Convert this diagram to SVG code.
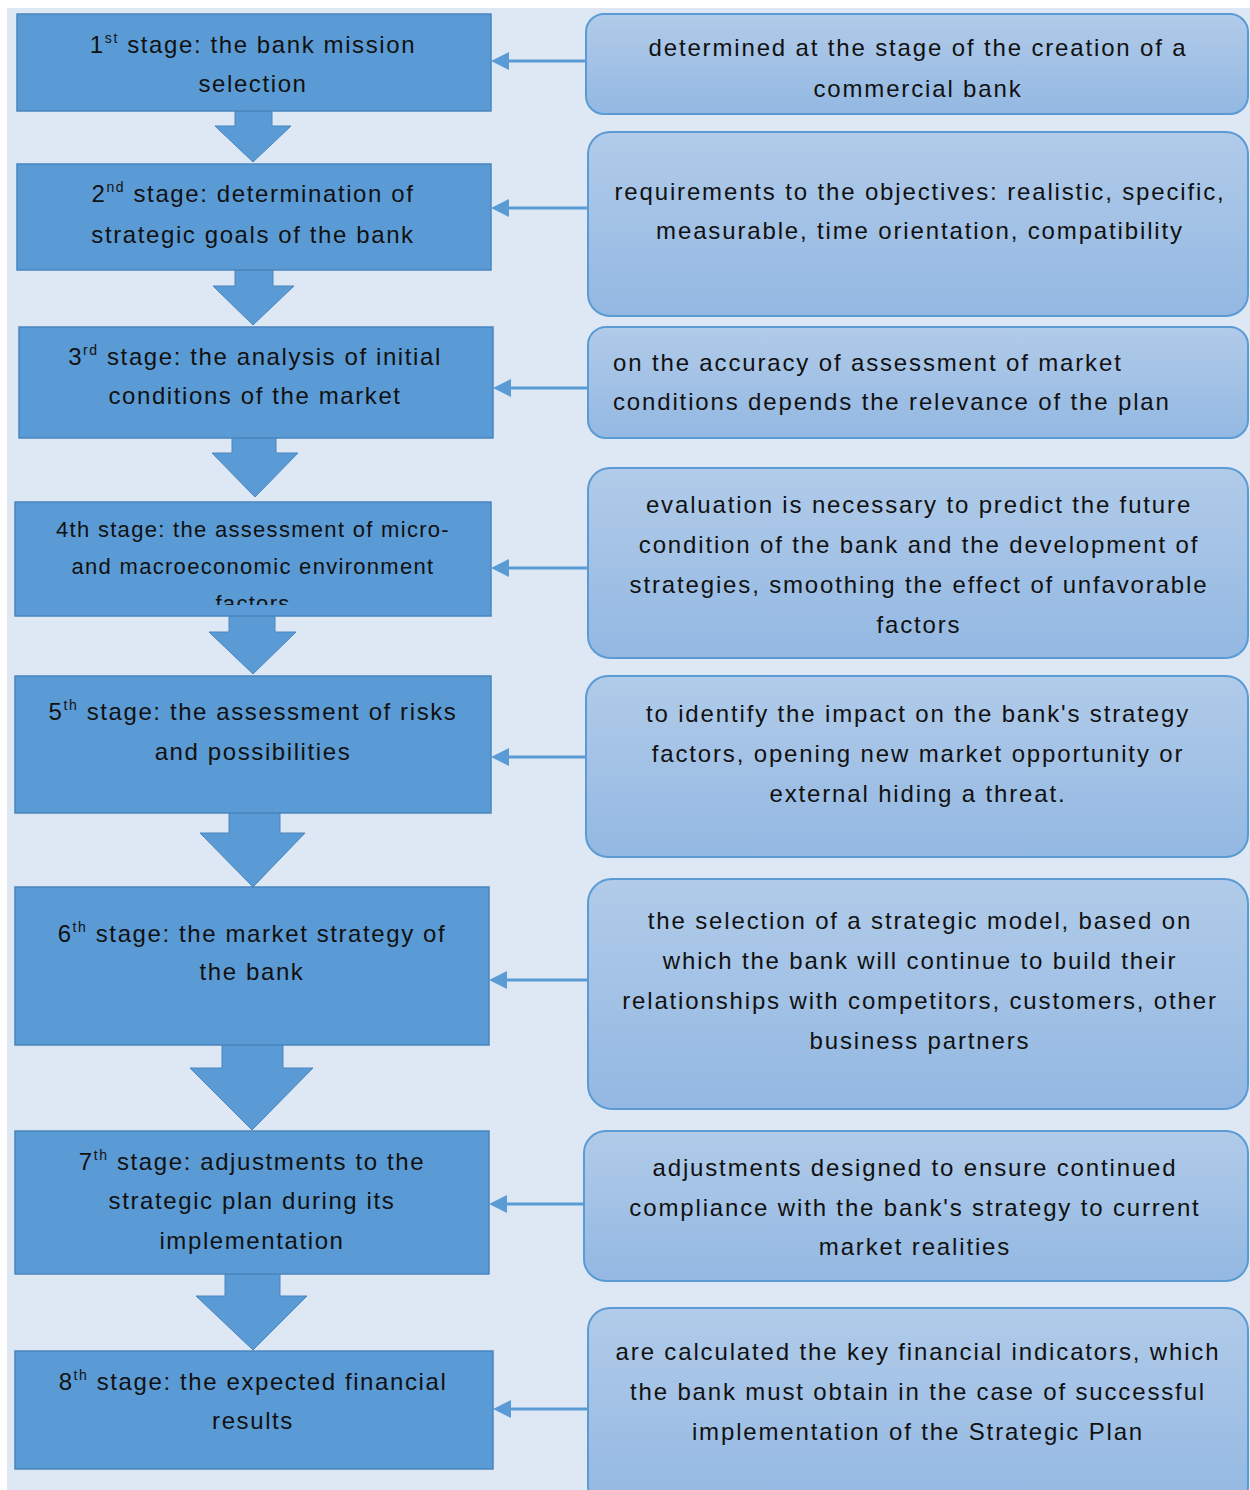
<svg xmlns="http://www.w3.org/2000/svg" width="1250" height="1490" viewBox="0 0 1250 1490">
<defs>
<linearGradient id="rg" x1="0" y1="0" x2="0" y2="1">
<stop offset="0" stop-color="#b1cbe9"/>
<stop offset="1" stop-color="#93b8e2"/>
</linearGradient>
<clipPath id="c4"><rect x="15" y="502" width="476" height="103"/></clipPath>
<style>
.lb{fill:#5b9bd5;stroke:#4a85bd;stroke-width:1.5}
.rb{fill:url(#rg);stroke:#5b9bd5;stroke-width:2}
.da{fill:#5b9bd5;stroke:#4a85bd;stroke-width:1}
.cn{stroke:#5b9bd5;stroke-width:3;fill:none}
.ah{fill:#5b9bd5}
text{font-family:"Liberation Sans",Arial,sans-serif;font-size:24px;fill:#111;letter-spacing:1.6px}
.r text{letter-spacing:1.85px}
.m{text-anchor:middle}
.sup{font-size:14px}
</style>
</defs>
<rect x="0" y="0" width="1250" height="1490" fill="#ffffff"/>
<rect x="7" y="8" width="1243" height="1482" fill="#dee8f4"/>

<g id="connectors">
<path class="da" d="M235,111 H272 V126 H291 L253,162 L215,126 H235 Z"/>
<path class="da" d="M235,270 H273 V286 H294 L253,325 L213,286 H235 Z"/>
<path class="da" d="M232,438 H276 V453 H298 L255,497 L212,453 H232 Z"/>
<path class="da" d="M229,616 H275 V632 H296 L253,674 L209,632 H229 Z"/>
<path class="da" d="M229,813 H280 V833 H305 L253,887 L200,833 H229 Z"/>
<path class="da" d="M222,1045 H283 V1068 H313 L252,1130 L190,1068 H222 Z"/>
<path class="da" d="M225,1274 H280 V1296 H307 L253,1350 L196,1296 H225 Z"/>
<line class="cn" x1="586" y1="61" x2="505" y2="61"/><path class="ah" d="M491,61 L509,52 L509,70 Z"/>
<line class="cn" x1="588" y1="208" x2="505" y2="208"/><path class="ah" d="M491,208 L509,199 L509,217 Z"/>
<line class="cn" x1="588" y1="388" x2="507" y2="388"/><path class="ah" d="M493,388 L511,379 L511,397 Z"/>
<line class="cn" x1="588" y1="568" x2="505" y2="568"/><path class="ah" d="M491,568 L509,559 L509,577 Z"/>
<line class="cn" x1="586" y1="757" x2="505" y2="757"/><path class="ah" d="M491,757 L509,748 L509,766 Z"/>
<line class="cn" x1="588" y1="980" x2="503" y2="980"/><path class="ah" d="M489,980 L507,971 L507,989 Z"/>
<line class="cn" x1="584" y1="1204" x2="503" y2="1204"/><path class="ah" d="M489,1204 L507,1195 L507,1213 Z"/>
<line class="cn" x1="588" y1="1409" x2="507" y2="1409"/><path class="ah" d="M493,1409 L511,1400 L511,1418 Z"/>
</g>

<g id="stage1">
<rect class="lb" x="17" y="14" width="474" height="97"/>
<text class="m" x="253" y="53">1<tspan class="sup" dy="-10">st</tspan><tspan dy="10"> stage: the bank mission</tspan></text>
<text class="m" x="253" y="92">selection</text>
</g>
<g id="stage2">
<rect class="lb" x="17" y="164" width="474" height="106"/>
<text class="m" x="253" y="202">2<tspan class="sup" dy="-10">nd</tspan><tspan dy="10"> stage: determination of</tspan></text>
<text class="m" x="253" y="243">strategic goals of the bank</text>
</g>
<g id="stage3">
<rect class="lb" x="19" y="327" width="474" height="111"/>
<text class="m" x="255" y="365">3<tspan class="sup" dy="-10">rd</tspan><tspan dy="10"> stage: the analysis of initial</tspan></text>
<text class="m" x="255" y="404">conditions of the market</text>
</g>
<g id="stage4">
<rect class="lb" x="15" y="502" width="476" height="114"/>
<g clip-path="url(#c4)">
<text class="m" x="253" y="537" style="font-size:22px;letter-spacing:1.3px">4th stage: the assessment of micro-</text>
<text class="m" x="253" y="574" style="font-size:22px;letter-spacing:1.3px">and macroeconomic environment</text>
<text class="m" x="253" y="611" style="font-size:22px;letter-spacing:1.3px">factors</text>
</g>
</g>
<g id="stage5">
<rect class="lb" x="15" y="676" width="476" height="137"/>
<text class="m" x="253" y="720">5<tspan class="sup" dy="-10">th</tspan><tspan dy="10"> stage: the assessment of risks</tspan></text>
<text class="m" x="253" y="760">and possibilities</text>
</g>
<g id="stage6">
<rect class="lb" x="15" y="887" width="474" height="158"/>
<text class="m" x="252" y="942">6<tspan class="sup" dy="-10">th</tspan><tspan dy="10"> stage: the market strategy of</tspan></text>
<text class="m" x="252" y="980">the bank</text>
</g>
<g id="stage7">
<rect class="lb" x="15" y="1131" width="474" height="143"/>
<text class="m" x="252" y="1170">7<tspan class="sup" dy="-10">th</tspan><tspan dy="10"> stage: adjustments to the</tspan></text>
<text class="m" x="252" y="1209">strategic plan during its</text>
<text class="m" x="252" y="1249">implementation</text>
</g>
<g id="stage8">
<rect class="lb" x="15" y="1351" width="478" height="118"/>
<text class="m" x="253" y="1390">8<tspan class="sup" dy="-10">th</tspan><tspan dy="10"> stage: the expected financial</tspan></text>
<text class="m" x="253" y="1429">results</text>
</g>

<g id="note1" class="r">
<rect class="rb" x="586" y="14" width="662" height="100" rx="18"/>
<text class="m" x="918" y="56">determined at the stage of the creation of a</text>
<text class="m" x="918" y="97">commercial bank</text>
</g>
<g id="note2" class="r">
<rect class="rb" x="588" y="132" width="660" height="184" rx="22"/>
<text class="m" x="920" y="200">requirements to the objectives: realistic, specific,</text>
<text class="m" x="920" y="239">measurable, time orientation, compatibility</text>
</g>
<g id="note3" class="r">
<rect class="rb" x="588" y="327" width="660" height="111" rx="18"/>
<text x="613" y="371">on the accuracy of assessment of market</text>
<text x="613" y="410">conditions depends the relevance of the plan</text>
</g>
<g id="note4" class="r">
<rect class="rb" x="588" y="468" width="660" height="190" rx="22"/>
<text class="m" x="919" y="513">evaluation is necessary to predict the future</text>
<text class="m" x="919" y="553">condition of the bank and the development of</text>
<text class="m" x="919" y="593">strategies, smoothing the effect of unfavorable</text>
<text class="m" x="919" y="633">factors</text>
</g>
<g id="note5" class="r">
<rect class="rb" x="586" y="676" width="662" height="181" rx="22"/>
<text class="m" x="918" y="722">to identify the impact on the bank's strategy</text>
<text class="m" x="918" y="762">factors, opening new market opportunity or</text>
<text class="m" x="918" y="802">external hiding a threat.</text>
</g>
<g id="note6" class="r">
<rect class="rb" x="588" y="879" width="660" height="230" rx="24"/>
<text class="m" x="920" y="929">the selection of a strategic model, based on</text>
<text class="m" x="920" y="969">which the bank will continue to build their</text>
<text class="m" x="920" y="1009">relationships with competitors, customers, other</text>
<text class="m" x="920" y="1049">business partners</text>
</g>
<g id="note7" class="r">
<rect class="rb" x="584" y="1131" width="664" height="150" rx="22"/>
<text class="m" x="915" y="1176">adjustments designed to ensure continued</text>
<text class="m" x="915" y="1216">compliance with the bank's strategy to current</text>
<text class="m" x="915" y="1255">market realities</text>
</g>
<g id="note8" class="r">
<rect class="rb" x="588" y="1308" width="660" height="200" rx="22"/>
<text class="m" x="918" y="1360">are calculated the key financial indicators, which</text>
<text class="m" x="918" y="1400">the bank must obtain in the case of successful</text>
<text class="m" x="918" y="1440">implementation of the Strategic Plan</text>
</g>
</svg>
